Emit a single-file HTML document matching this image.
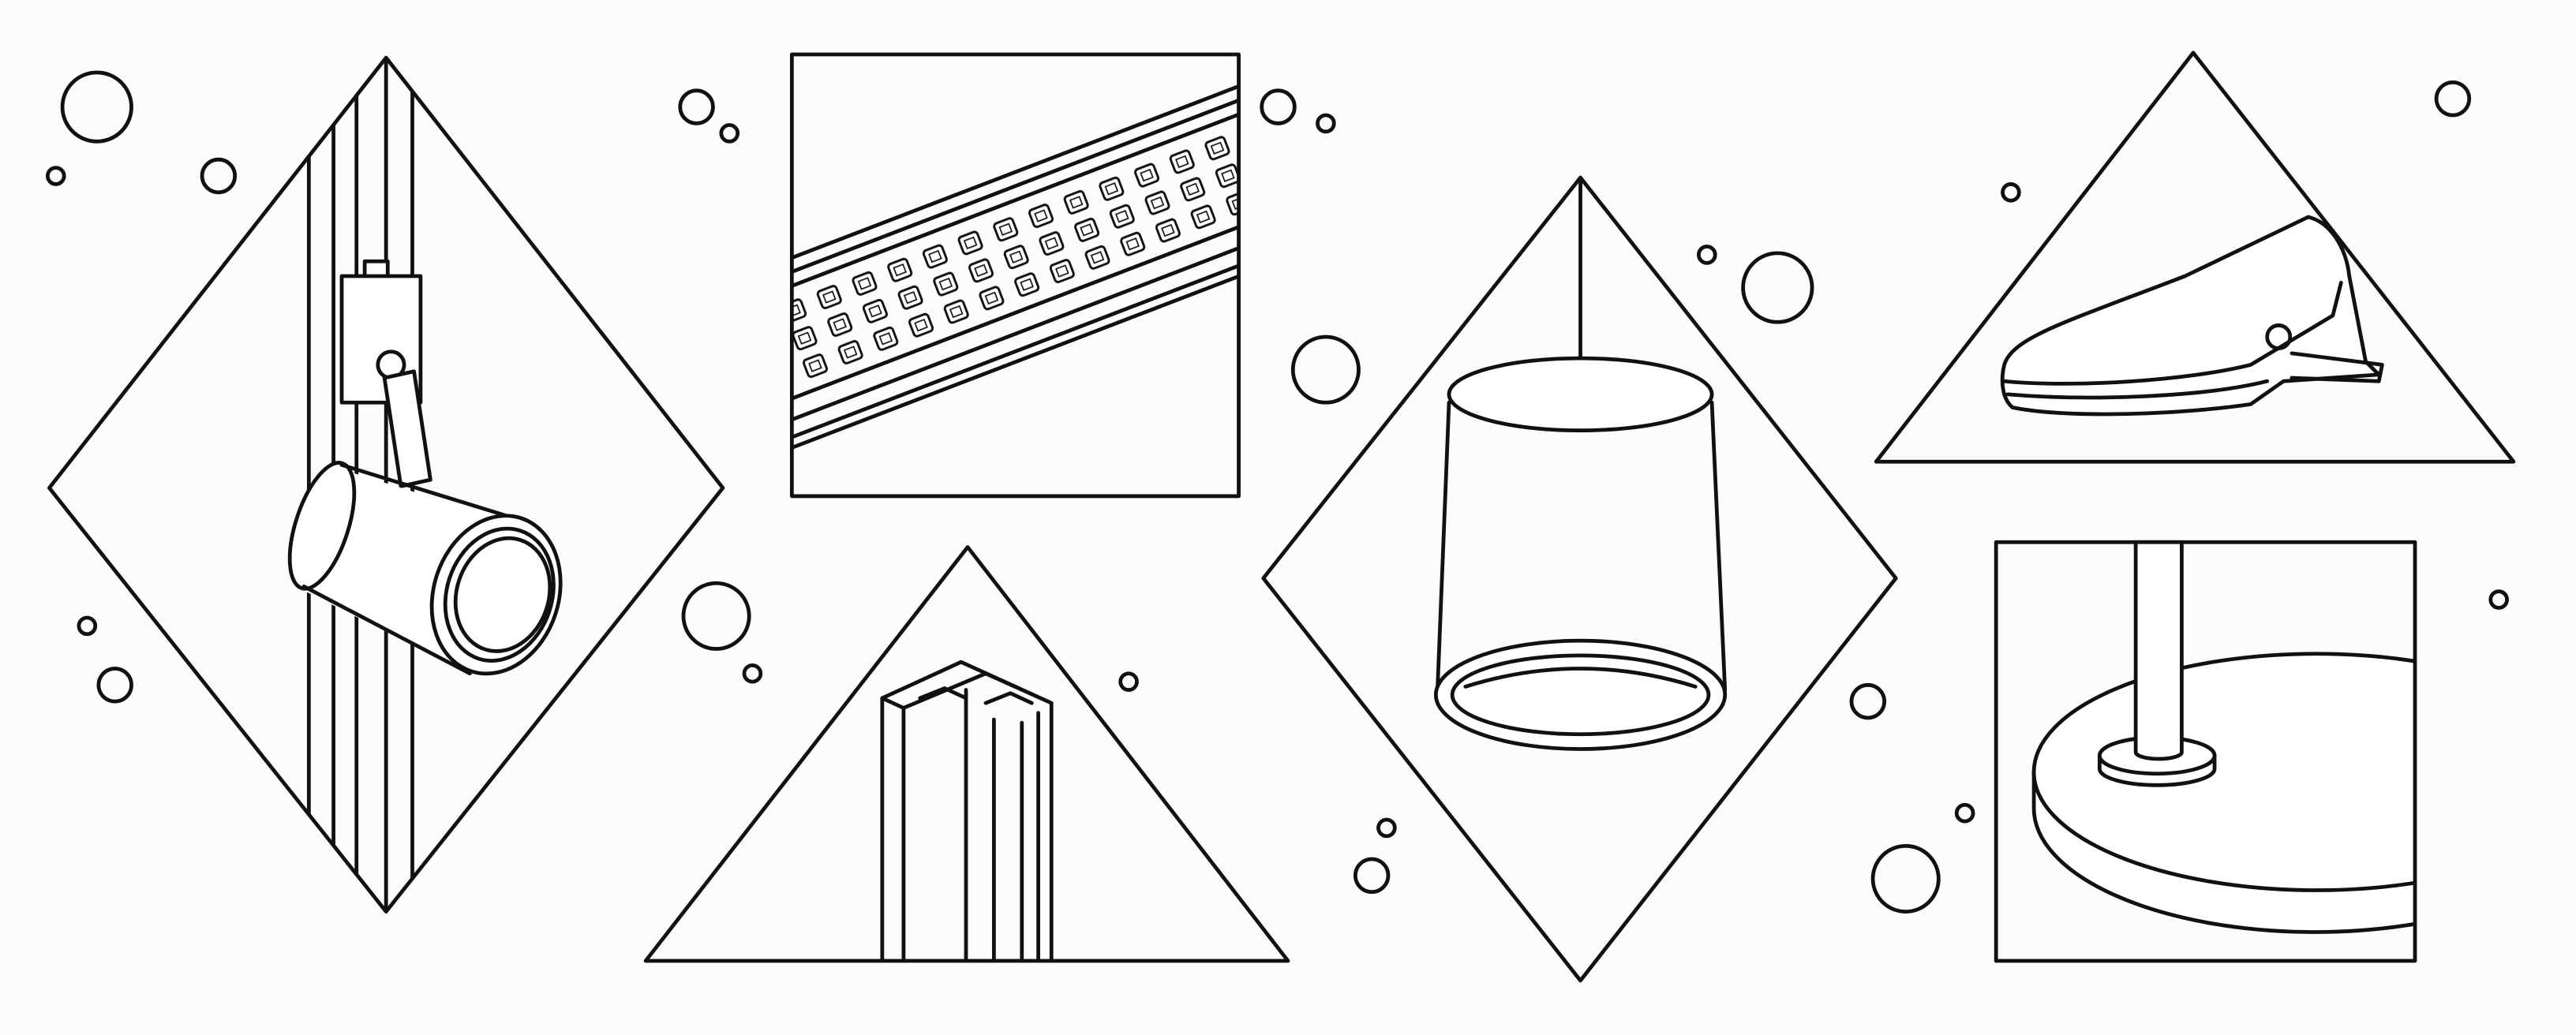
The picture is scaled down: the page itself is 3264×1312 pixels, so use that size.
<!DOCTYPE html>
<html><head><meta charset="utf-8"><style>
html,body{margin:0;padding:0;background:#fcfcfa;}
svg{display:block;}
</style></head><body>
<svg width="3264" height="1312" viewBox="0 0 1568 630" xmlns="http://www.w3.org/2000/svg">
<defs>
<clipPath id="sq1"><rect x="482" y="33" width="272" height="269"/></clipPath>
<clipPath id="sq2"><rect x="1215" y="330" width="255" height="255"/></clipPath>
<clipPath id="d1"><polygon points="235,35 30,297 235,555 440,297"/></clipPath>
<pattern id="led" x="0" y="0" width="23" height="18" patternUnits="userSpaceOnUse">
<rect x="5" y="3" width="12" height="11" rx="2" fill="#fff" stroke="#111" stroke-width="1.4"/>
<rect x="8" y="6" width="6" height="5" fill="none" stroke="#111" stroke-width="0.8"/>
</pattern>
</defs>
<rect width="1568" height="630" fill="#fcfcfa"/>
<g fill="none" stroke="#111" stroke-width="2.3" stroke-linejoin="round" stroke-linecap="round">
<!-- circles -->
<circle cx="59" cy="65" r="21"/><circle cx="34" cy="107" r="5"/><circle cx="133" cy="107" r="10"/>
<circle cx="424" cy="65" r="10"/><circle cx="444" cy="81" r="5"/><circle cx="778" cy="65" r="10"/>
<circle cx="807" cy="75" r="5"/><circle cx="807" cy="225" r="20"/><circle cx="1082" cy="175" r="21"/>
<circle cx="1039" cy="155" r="5"/><circle cx="1224" cy="117" r="5"/><circle cx="1493" cy="60" r="10"/>
<circle cx="436" cy="375" r="20"/><circle cx="458" cy="410" r="5"/><circle cx="53" cy="381" r="5"/>
<circle cx="70" cy="417" r="10"/><circle cx="687" cy="415" r="5"/><circle cx="1137" cy="427" r="10"/>
<circle cx="1521" cy="365" r="5"/><circle cx="1196" cy="495" r="5"/><circle cx="1160" cy="535" r="20"/>
<circle cx="844" cy="504" r="5"/><circle cx="835" cy="533" r="10"/>

<!-- diamond 1 -->
<polygon points="235,35 30,297 235,555 440,297"/>
<g clip-path="url(#d1)">
<line x1="188" y1="0" x2="188" y2="630"/><line x1="203" y1="0" x2="203" y2="630"/>
<line x1="217" y1="0" x2="217" y2="630"/><line x1="235" y1="0" x2="235" y2="630"/>
<line x1="251" y1="0" x2="251" y2="630"/>
</g>
<rect x="222" y="159" width="14" height="10" fill="#fff"/>
<rect x="208" y="168" width="48" height="77" fill="#fff"/>
<circle cx="238" cy="222" r="8" fill="#fff"/>
<polygon points="234,230 252,226 262,292 244,296" fill="#fff"/>
<path d="M196,282 L312,318 L286,410 L178,356 Z" fill="#fff" stroke="none"/>
<ellipse cx="196" cy="320" rx="16" ry="40" transform="rotate(18 196 320)" fill="#fff"/>
<path d="M208,283 L315,316 M185,357 L286,410" />
<ellipse cx="302" cy="362" rx="38" ry="49" transform="rotate(18 302 362)" fill="#fff"/>
<ellipse cx="304" cy="362" rx="32" ry="41" transform="rotate(18 304 362)"/>
<ellipse cx="306" cy="362" rx="28" ry="35" transform="rotate(18 306 362)"/>

<!-- square 1 LED strip -->
<g clip-path="url(#sq1)">
<g transform="translate(470,185) rotate(-21)">
<line x1="-20" y1="-22" x2="340" y2="-22"/>
<line x1="-20" y1="-14" x2="340" y2="-14"/>
<line x1="-20" y1="-6" x2="340" y2="-6"/>
<rect x="-20" y="0" width="360" height="54" fill="url(#led)" stroke="none"/>
<line x1="-20" y1="58" x2="340" y2="58"/>
<line x1="-20" y1="70" x2="340" y2="70"/>
<line x1="-20" y1="80" x2="340" y2="80"/>
<line x1="-20" y1="86" x2="340" y2="86"/>
</g>
</g>
<rect x="482" y="33" width="272" height="269"/>

<!-- triangle 1 profile -->
<polygon points="589,333 393,585 784,585"/>
<path d="M537,425 L585,403 L640,428 L640,585 M537,425 L537,585 M537,425 L550,431 L550,585 M550,431 L600,410 L640,428"/>
<path d="M588,420 L588,585 M605,438 L605,585 M622,440 L622,585 M632,434 L632,585"/>
<path d="M560,425 L575,419 L588,425 M600,428 L615,422 L628,428"/>

<!-- diamond 2 pendant -->
<polygon points="962,108 769,352 962,597 1154,352"/>
<line x1="962" y1="108" x2="962" y2="218"/>
<path d="M882,245 L875,420 M1042,245 L1050,420"/>
<ellipse cx="962" cy="240" rx="80" ry="22" fill="#fff"/>
<ellipse cx="962" cy="423" rx="88" ry="33" fill="#fff"/>
<ellipse cx="962" cy="423" rx="78" ry="24"/>
<path d="M892,418 Q962,396 1032,418"/>

<!-- triangle 2 clip -->
<polygon points="1335,32 1142,281 1530,281"/>
<path d="M1220,222 C1225,205 1260,195 1330,168 L1405,132 C1418,135 1428,150 1430,168 L1440,220 L1448,228 L1390,232 L1370,246 C1330,252 1260,255 1225,248 C1218,242 1218,230 1220,222 Z" fill="#fff"/>
<path d="M1220,232 C1260,236 1330,232 1370,222 L1420,192 L1425,172"/>
<path d="M1222,240 C1270,244 1340,242 1380,232"/>
<circle cx="1387" cy="205" r="7"/>
<path d="M1395,215 L1450,222 L1448,232 L1395,230"/>

<!-- square 2 lamp -->
<g clip-path="url(#sq2)">
<path d="M1238,470 L1238,492 A170,75 0 0 0 1580,492 L1580,470" fill="#fff"/>
<ellipse cx="1410" cy="470" rx="172" ry="72" fill="#fff"/>
</g>
<rect x="1215" y="330" width="255" height="255"/>
<path d="M1278,460 L1278,468 A35,10 0 0 0 1348,468 L1348,460"/>
<ellipse cx="1313" cy="460" rx="35" ry="11" fill="#fff"/>
<path d="M1300,330 L1300,458 A14,4 0 0 0 1328,458 L1328,330 Z" fill="#fff"/>
</g>
</svg>
</body></html>
